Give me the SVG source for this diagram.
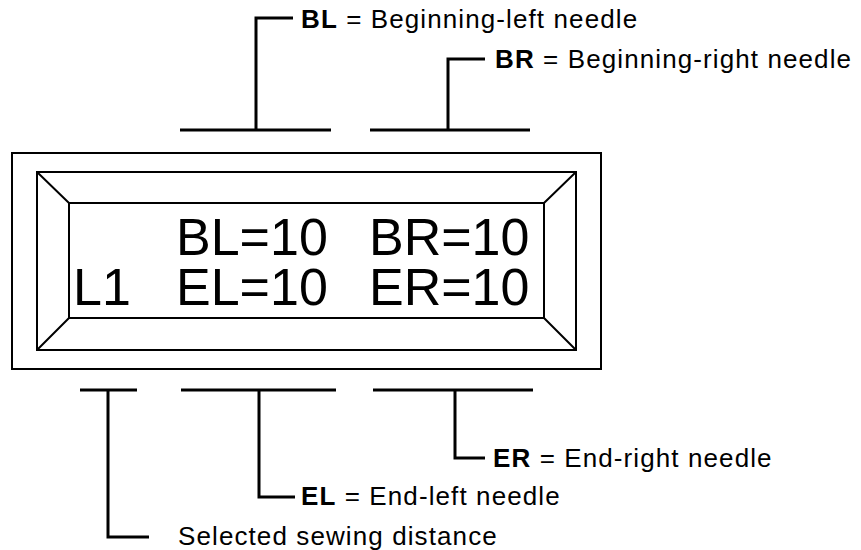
<svg xmlns="http://www.w3.org/2000/svg" width="861" height="550" viewBox="0 0 861 550">
<style>
.frame{fill:none;stroke:#000;stroke-width:2}
.conn{fill:none;stroke:#000;stroke-width:3}
.big{font-family:"Liberation Sans",Arial,sans-serif;font-size:52px;fill:#000}
.lbl{font-family:"Liberation Sans",Arial,sans-serif;font-size:26px;letter-spacing:1.1px;fill:#000}
.b{font-weight:bold}
</style>
<rect width="861" height="550" fill="#fff"/>
<g id="display">
<rect class="frame" x="12" y="153" width="589" height="216"/>
<rect class="frame" x="37" y="172" width="539" height="178"/>
<rect class="frame" x="69" y="203" width="475" height="115"/>
<path class="frame" d="M37 172 L69 203 M576 172 L544 203 M37 350 L69 318 M576 350 L544 318"/>
<text class="big" x="176" y="255">BL=10</text>
<text class="big" x="369" y="255">BR=10</text>
<text class="big" x="73" y="305">L1</text>
<text class="big" x="176" y="305">EL=10</text>
<text class="big" x="369" y="305">ER=10</text>
</g>
<g id="connectors">
<path class="conn" d="M180 130 H331 M370 130 H530"/>
<path class="conn" d="M256 130 V18 H293"/>
<path class="conn" d="M448 130 V59 H485"/>
<path class="conn" d="M80 390 H137 M181 390 H336 M373 390 H533"/>
<path class="conn" d="M108 390 V537 H149"/>
<path class="conn" d="M259 390 V497 H295"/>
<path class="conn" d="M455 390 V458 H485"/>
</g>
<g id="label-bl"><text class="lbl" x="301" y="28"><tspan class="b">BL</tspan> = Beginning-left needle</text></g>
<g id="label-br"><text class="lbl" x="495" y="68"><tspan class="b">BR</tspan> = Beginning-right needle</text></g>
<g id="label-er"><text class="lbl" x="493" y="467"><tspan class="b">ER</tspan> = End-right needle</text></g>
<g id="label-el"><text class="lbl" x="301" y="505"><tspan class="b">EL</tspan> = End-left needle</text></g>
<g id="label-sel"><text class="lbl" x="178" y="545">Selected sewing distance</text></g>
</svg>
